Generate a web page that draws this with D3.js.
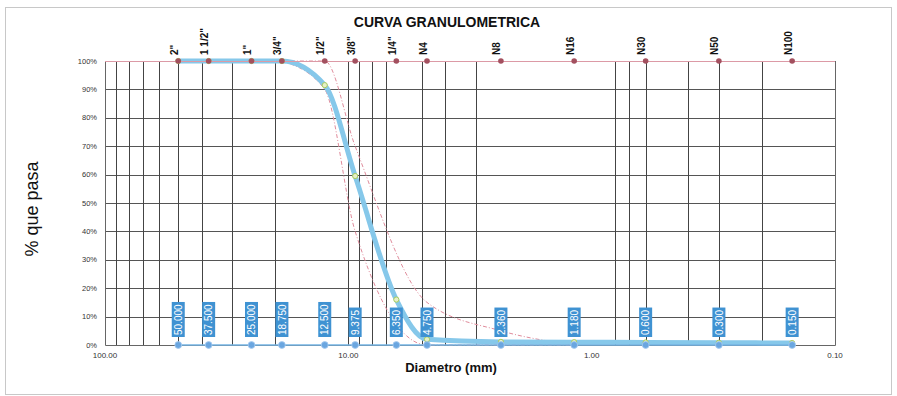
<!DOCTYPE html>
<html>
<head>
<meta charset="utf-8">
<script src="https://cdn.jsdelivr.net/npm/d3@7"></script>
<style>
  html, body { margin: 0; padding: 0; background: #ffffff; }
  svg { display: block; font-family: "Liberation Sans", Arial, sans-serif; }
</style>
</head>
<body>
<svg id="chart" width="897" height="396"></svg>
<script>
// Sieve series: names, openings (mm) and the printed opening labels
const sieveNames = ['2"', '1 1/2"', '1"', '3/4"', '1/2"', '3/8"', '1/4"', 'N4', 'N8', 'N16', 'N30', 'N50', 'N100'];
const sieveOpenings = [50, 37.5, 25, 18.75, 12.5, 9.375, 6.35, 4.75, 2.36, 1.18, 0.6, 0.3, 0.15];
const openingLabels = ['50.000', '37.500', '25.000', '18.750', '12.500', '9.375', '6.350', '4.750', '2.360', '1.180', '0.600', '0.300', '0.150'];

// Percent passing of the sample, one value per sieve
const percentPassing = [100, 100, 100, 100, 91.5, 59.5, 16, 2, 1.1, 1.0, 0.9, 0.8, 0.7];

// Gradation band (upper and lower limits)
const limitSizes = [18.75, 12.5, 9.375, 4.75, 2.36, 1.18];
const upperLimit = [100, 100, 70, 15, 5, 0];
const lowerLimit = [100, 90, 40, 0, 0, 0];

// Axis ticks
const xTicks = [100, 10, 1, 0.1];
const xTickLabels = ['100.00', '10.00', '1.00', '0.10'];
const yTicks = [0, 10, 20, 30, 40, 50, 60, 70, 80, 90, 100];
const gridSizes = [90, 80, 70, 60, 50, 40, 30, 20, 10, 9, 8, 7, 5, 4, 3, 0.8, 0.7, 0.6, 0.4, 0.3, 0.2];

const svg = d3.select('#chart');
const plotLeft = 105, plotRight = 835, plotTop = 61, plotBottom = 345;

const x = d3.scaleLog().domain([100, 0.1]).range([plotLeft, plotRight]);
const y = d3.scaleLinear().domain([0, 100]).range([plotBottom, plotTop]);

// page frame
svg.append('rect').attr('x', 5.5).attr('y', 7.5).attr('width', 886).attr('height', 387)
  .attr('fill', 'none').attr('stroke', '#c8c8c8').attr('stroke-width', 1);

// horizontal grid
svg.append('g').selectAll('line').data(yTicks.filter(d => d > 0 && d < 100)).join('line')
  .attr('x1', plotLeft).attr('x2', plotRight)
  .attr('y1', d => Math.round(y(d)) + 0.5).attr('y2', d => Math.round(y(d)) + 0.5)
  .attr('stroke', '#555').attr('stroke-width', 1);

// vertical grid
svg.append('g').selectAll('line').data(gridSizes).join('line')
  .attr('x1', d => Math.round(x(d)) + 0.5).attr('x2', d => Math.round(x(d)) + 0.5)
  .attr('y1', plotTop).attr('y2', plotBottom)
  .attr('stroke', '#444').attr('stroke-width', 1);

// plot frame (left, right, bottom)
svg.append('path')
  .attr('d', `M${plotLeft + 0.5},${plotTop}V${plotBottom + 0.5}H${plotRight + 0.5}V${plotTop}`)
  .attr('fill', 'none').attr('stroke', '#666').attr('stroke-width', 1);

// y axis labels
svg.append('g').selectAll('text').data(yTicks).join('text')
  .attr('x', 97).attr('y', d => y(d) + 2.5)
  .attr('text-anchor', 'end').attr('font-size', 7.5).attr('fill', '#333')
  .text(d => d + '%');

// x axis labels
svg.append('g').selectAll('text').data(xTicks).join('text')
  .attr('x', d => x(d)).attr('y', 358)
  .attr('text-anchor', 'middle').attr('font-size', 8).attr('fill', '#333')
  .text((d, i) => xTickLabels[i]);

// gradation band limits
const smoothLine = d3.line().x(d => x(d[0])).y(d => y(d[1])).curve(d3.curveMonotoneX);
[upperLimit, lowerLimit].forEach(vals => {
  svg.append('path')
    .datum(limitSizes.map((s, i) => [s, vals[i]]))
    .attr('d', smoothLine)
    .attr('fill', 'none').attr('stroke', '#e08c9c').attr('stroke-width', 1)
    .attr('stroke-dasharray', '4,2,1,2');
});

// sample curve
const curveData = sieveOpenings.map((s, i) => [s, percentPassing[i]]);
svg.append('path')
  .datum(curveData)
  .attr('d', smoothLine)
  .attr('fill', 'none').attr('stroke', '#86c8ea').attr('stroke-width', 5)
  .attr('stroke-linecap', 'round').attr('stroke-linejoin', 'round');
svg.append('g').selectAll('circle').data(curveData).join('circle')
  .attr('cx', d => x(d[0])).attr('cy', d => y(d[1])).attr('r', 2.6)
  .attr('fill', '#e6f0c8').attr('stroke', '#a9cc5c').attr('stroke-width', 1);

// top sieve series at 100%
svg.append('line')
  .attr('x1', plotLeft).attr('x2', plotRight).attr('y1', plotTop + 0.5).attr('y2', plotTop + 0.5)
  .attr('stroke', '#dc9aa6').attr('stroke-width', 1.2);
svg.append('g').selectAll('circle').data(sieveOpenings).join('circle')
  .attr('cx', d => x(d)).attr('cy', y(100)).attr('r', 2.8)
  .attr('fill', '#a3505f');
svg.append('g').selectAll('text').data(sieveOpenings).join('text')
  .attr('transform', d => `translate(${x(d) - 0.5},55) rotate(-90)`)
  .attr('font-size', 10).attr('font-weight', 'bold').attr('fill', '#111')
  .text((d, i) => sieveNames[i]);

// bottom sieve series at 0%
svg.append('line')
  .attr('x1', x(sieveOpenings[0])).attr('x2', x(sieveOpenings[sieveOpenings.length - 1]))
  .attr('y1', y(0)).attr('y2', y(0))
  .attr('stroke', '#74b4e4').attr('stroke-width', 1.5);
svg.append('g').selectAll('circle').data(sieveOpenings).join('circle')
  .attr('cx', d => x(d)).attr('cy', y(0)).attr('r', 3.4)
  .attr('fill', '#6aa6e0').attr('stroke', '#a8ccf0').attr('stroke-width', 0.8);

// opening value boxes
const boxes = svg.append('g').selectAll('g').data(sieveOpenings).join('g')
  .attr('transform', d => `translate(${x(d)},338) rotate(-90)`);
boxes.append('text')
  .attr('x', 3).attr('y', 3.6)
  .attr('font-size', 10).attr('fill', '#ffffff')
  .text((d, i) => openingLabels[i])
  .each(function () {
    const b = this.getBBox();
    d3.select(this.parentNode).insert('rect', 'text')
      .attr('x', b.x - 2).attr('y', -6.5)
      .attr('width', b.width + 4).attr('height', 13)
      .attr('fill', '#3f92d2');
  });

// titles
svg.append('text').attr('x', 447).attr('y', 27).attr('text-anchor', 'middle')
  .attr('font-size', 14).attr('font-weight', 'bold').attr('fill', '#111')
  .text('CURVA GRANULOMETRICA');
svg.append('text').attr('x', 451).attr('y', 372).attr('text-anchor', 'middle')
  .attr('font-size', 13).attr('font-weight', 'bold').attr('fill', '#111')
  .text('Diametro (mm)');
svg.append('text').attr('transform', 'translate(38,209) rotate(-90)')
  .attr('text-anchor', 'middle').attr('font-size', 18).attr('fill', '#111')
  .text('% que pasa');
</script>
</body>
</html>
